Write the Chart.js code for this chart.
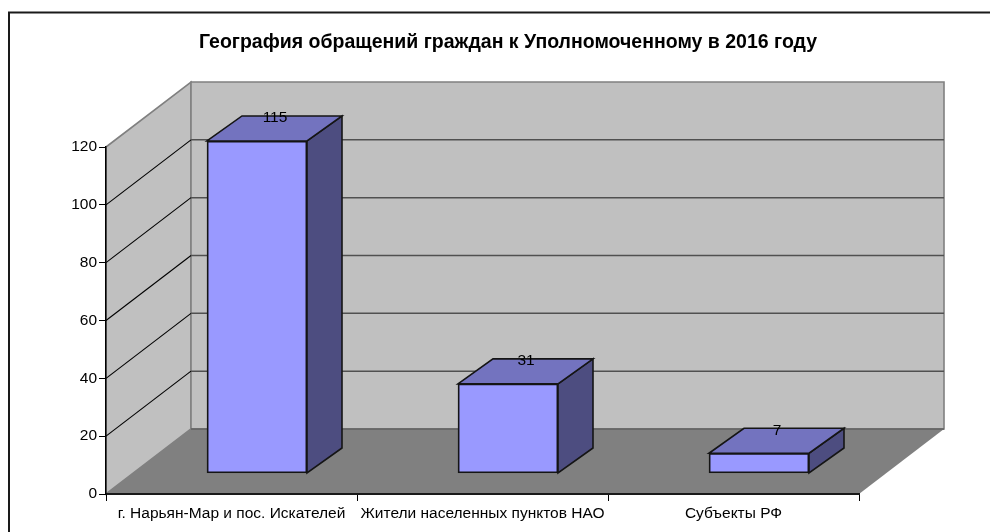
<!DOCTYPE html>
<html><head><meta charset="utf-8">
<style>html,body{margin:0;padding:0;background:#fff}canvas{display:block}</style>
<script src="https://cdn.jsdelivr.net/npm/chart.js@4/dist/chart.umd.min.js"></script>
</head><body><canvas id="c" width="990" height="532"></canvas>
<script>
const categories = ["г. Нарьян-Мар и пос. Искателей", "Жители населенных пунктов НАО", "Субъекты РФ"];
const values = [115, 31, 7];
const titleText = "География обращений граждан к Уполномоченному в 2016 году";

const FONT = "'Liberation Sans', Arial, sans-serif";
const WALL = {dx: 85, dy: -65};
const BAR = {sx: 25.5, sy: -20.5, dx: 35, dy: -25};

function poly(ctx, pts, fill, stroke, lw) {
  ctx.beginPath();
  pts.forEach((p, i) => i ? ctx.lineTo(p[0], p[1]) : ctx.moveTo(p[0], p[1]));
  ctx.closePath();
  if (fill) { ctx.fillStyle = fill; ctx.fill(); }
  if (stroke) { ctx.strokeStyle = stroke; ctx.lineWidth = lw; ctx.stroke(); }
}

const scene = {
  id: "scene",
  afterLayout(chart) { chart.titleBlock.right = 990; },
  beforeDraw(chart) {
    const {ctx, chartArea: a, scales: {y}} = chart;
    const L = a.left, R = a.right, T = a.top, B = a.bottom, dx = WALL.dx, dy = WALL.dy;
    ctx.save();
    // outer frame: only the left and top edges are inside the picture
    ctx.strokeStyle = "#1a1a1a"; ctx.lineWidth = 2;
    ctx.beginPath(); ctx.moveTo(9, 532); ctx.lineTo(9, 12.5); ctx.lineTo(990, 12.5); ctx.stroke();
    // side wall
    poly(ctx, [[L, B], [L + dx, B + dy], [L + dx, T + dy], [L, T]], "#c0c0c0", "#808080", 1.6);
    // back wall
    poly(ctx, [[L + dx, B + dy], [R + dx, B + dy], [R + dx, T + dy], [L + dx, T + dy]], "#c0c0c0", "#808080", 1.6);
    // grid lines
    y.ticks.forEach(t => {
      if (t.value === 0 || t.value === y.max) return;
      const py = y.getPixelForValue(t.value);
      ctx.strokeStyle = "#000"; ctx.lineWidth = 1.1;
      ctx.beginPath(); ctx.moveTo(L, py); ctx.lineTo(L + dx, py + dy); ctx.stroke();
      ctx.strokeStyle = "#505050"; ctx.lineWidth = 1.5;
      ctx.beginPath(); ctx.moveTo(L + dx, py + dy); ctx.lineTo(R + dx, py + dy); ctx.stroke();
    });
    // floor
    poly(ctx, [[L, B], [R, B], [R + dx, B + dy], [L + dx, B + dy]], "#808080", null, 0);
    ctx.strokeStyle = "#606060"; ctx.lineWidth = 1.5;
    ctx.beginPath(); ctx.moveTo(L + dx, B + dy); ctx.lineTo(R + dx, B + dy); ctx.stroke();
    ctx.restore();
  },
  beforeDatasetDraw(chart) {
    chart.ctx.save();
    chart.ctx.translate(BAR.sx, BAR.sy);
  },
  afterDatasetDraw(chart, args) {
    const ctx = chart.ctx;
    args.meta.data.forEach(el => {
      const p = el.getProps(["x", "y", "base", "width"], true);
      const l = p.x - p.width / 2, r = p.x + p.width / 2, t = p.y, b = p.base;
      poly(ctx, [[r, t], [r + BAR.dx, t + BAR.dy], [r + BAR.dx, b + BAR.dy], [r, b]], "#4d4d80", "#151515", 1.6);
      poly(ctx, [[l, t], [l + BAR.dx, t + BAR.dy], [r + BAR.dx, t + BAR.dy], [r, t]], "#7373bf", "#151515", 1.6);
    });
    ctx.restore();
  },
  afterDatasetsDraw(chart) {
    const ctx = chart.ctx, meta = chart.getDatasetMeta(0);
    ctx.save();
    ctx.font = "15.5px " + FONT;
    ctx.fillStyle = "#000";
    ctx.textAlign = "center";
    ctx.textBaseline = "middle";
    meta.data.forEach((el, i) => {
      ctx.fillText(String(values[i]), el.x + BAR.sx + BAR.dx / 2 + 0.5, el.y + BAR.sy + BAR.dy + 2);
    });
    ctx.restore();
  }
};

new Chart(document.getElementById("c"), {
  type: "bar",
  data: {
    labels: categories,
    datasets: [{
      data: values,
      backgroundColor: "#9999ff",
      borderColor: "#151515",
      borderWidth: 1.8,
      borderSkipped: false,
      barThickness: 100
    }]
  },
  plugins: [scene],
  options: {
    responsive: false,
    animation: false,
    devicePixelRatio: 1,
    layout: {padding: {left: 26, right: 131, top: 0, bottom: 0}},
    plugins: {
      legend: {display: false},
      tooltip: {enabled: false},
      title: {
        display: true,
        text: titleText,
        color: "#000",
        font: {family: FONT, size: 19.5, weight: "bold"},
        padding: {top: 31, bottom: 92.6}
      }
    },
    scales: {
      x: {
        offset: true,
        grid: {drawOnChartArea: false, drawTicks: true, tickLength: 7, color: "#000", lineWidth: 1},
        border: {color: "#1a1a1a", width: 2},
        ticks: {color: "#000", font: {family: FONT, size: 15.5}, maxRotation: 0, autoSkip: false, padding: 3},
        afterFit(s) { s.height = 38; }
      },
      y: {
        min: 0, max: 120,
        grid: {drawOnChartArea: false, drawTicks: true, tickLength: 7, color: "#000", lineWidth: 1},
        border: {color: "#000", width: 1.5},
        ticks: {stepSize: 20, color: "#000", font: {family: FONT, size: 15.5}, padding: 2},
        afterFit(s) { s.width = 80; }
      }
    }
  }
});
</script></body></html>
